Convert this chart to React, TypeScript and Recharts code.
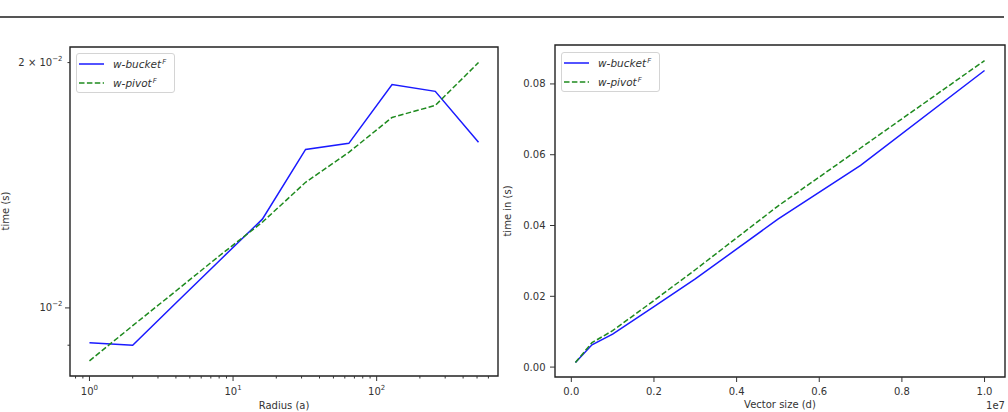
import React from "react";
import { LineChart, Line, XAxis, YAxis, Legend, Label, ReferenceArea } from "recharts";

// left panel: time vs radius (log-log)
const radius = [1, 2, 4, 8, 16, 32, 64, 128, 256, 512];
const bucketByRadius = [0.00906, 0.009, 0.01014, 0.01142, 0.01285, 0.01565, 0.01592, 0.0188, 0.01844, 0.01597];
const pivotByRadius = [0.00861, 0.00951, 0.01049, 0.01158, 0.01274, 0.01426, 0.01552, 0.01713, 0.01772, 0.02];

// right panel: time vs vector size
const vectorSize = [1e5, 5e5, 1e6, 2e6, 3e6, 5e6, 7e6, 1e7];
const bucketBySize = [0.0013, 0.0063, 0.0093, 0.0171, 0.0249, 0.0418, 0.057, 0.0838];
const pivotBySize = [0.0013, 0.0069, 0.0103, 0.0188, 0.0275, 0.0455, 0.0619, 0.0866];

const radiusMajorTicks = [1, 10, 100];
const radiusMinorTicks = [0.8, 0.9, 2, 3, 4, 5, 6, 7, 8, 9, 20, 30, 40, 50, 60, 70, 80, 90, 200, 300, 400, 500, 600];
const timeLogTicks = [0.009, 0.01, 0.02];
const timeLogLabels: Record<string, [string, string]> = {
  "0.01": ["10", "\u22122"],
  "0.02": ["2 \u00d7 10", "\u22122"],
};
const sizeTicks = [0, 2e6, 4e6, 6e6, 8e6, 1e7];
const sizeTickLabels = ["0.0", "0.2", "0.4", "0.6", "0.8", "1.0"];
const timeTicks = [0, 0.02, 0.04, 0.06, 0.08];
const timeTickLabels = ["0.00", "0.02", "0.04", "0.06", "0.08"];

const font = "'DejaVu Sans', sans-serif";
const textColor = "#333";
const axisColor = "#333";
const blue = "#1a1aff";
const green = "#1e8a1e";

const radiusData = radius.map((r, i) => ({ r, bucket: bucketByRadius[i], pivot: pivotByRadius[i] }));
const sizeData = vectorSize.map((d, i) => ({ d, bucket: bucketBySize[i], pivot: pivotBySize[i] }));

const LogXTick = (props: any) => {
  const { x, y, payload } = props;
  const v = payload.value;
  const major = radiusMajorTicks.includes(v);
  return (
    <g>
      <line x1={x} x2={x} y1={y} y2={y + (major ? 5 : 2.5)} stroke={axisColor} />
      {major && (
        <text x={x} y={y + 19} textAnchor="middle" fill={textColor} fontSize={10} fontFamily={font}>
          10
          <tspan dy={-5} fontSize={7}>
            {Math.round(Math.log10(v))}
          </tspan>
        </text>
      )}
    </g>
  );
};

const LogYTick = (props: any) => {
  const { x, y, payload } = props;
  const lbl = timeLogLabels[String(payload.value)];
  const major = payload.value === 0.01;
  return (
    <g>
      <line x1={x - (major ? 5 : 2.5)} x2={x} y1={y} y2={y} stroke={axisColor} />
      {lbl && (
        <text x={x - 7.5} y={y + 3.5} textAnchor="end" fill={textColor} fontSize={10} fontFamily={font}>
          {lbl[0]}
          <tspan dy={-5} fontSize={7}>
            {lbl[1]}
          </tspan>
        </text>
      )}
    </g>
  );
};

const SizeXTick = (props: any) => {
  const { x, y, payload } = props;
  const i = sizeTicks.indexOf(payload.value);
  return (
    <g>
      <line x1={x} x2={x} y1={y} y2={y + 5} stroke={axisColor} />
      <text x={x} y={y + 18} textAnchor="middle" fill={textColor} fontSize={10} fontFamily={font}>
        {sizeTickLabels[i]}
      </text>
    </g>
  );
};

const TimeYTick = (props: any) => {
  const { x, y, payload } = props;
  const i = timeTicks.indexOf(payload.value);
  return (
    <g>
      <line x1={x - 5} x2={x} y1={y} y2={y} stroke={axisColor} />
      <text x={x - 9.5} y={y + 3.5} textAnchor="end" fill={textColor} fontSize={10} fontFamily={font}>
        {timeTickLabels[i]}
      </text>
    </g>
  );
};

const renderLegend = (props: any) => (
  <div
    style={{
      width: 99,
      height: 40,
      boxSizing: "border-box",
      border: "1px solid #d4d4d4",
      borderRadius: 3,
      background: "#fff",
      fontFamily: font,
      fontSize: 10.5,
      color: textColor,
    }}
  >
    {(props.payload || []).map((entry: any) => (
      <div key={entry.value} style={{ display: "flex", alignItems: "center", height: 19 }}>
        <svg width={25} height={4} style={{ marginLeft: 2, marginRight: 9 }}>
          <line
            x1={0}
            x2={25}
            y1={2}
            y2={2}
            stroke={entry.color}
            strokeWidth={1.5}
            strokeDasharray={entry.payload?.strokeDasharray}
          />
        </svg>
        <span style={{ fontStyle: "italic", whiteSpace: "nowrap" }}>
          {entry.value}
          <span style={{ fontSize: 7, position: "relative", top: -4, marginLeft: 1 }}>F</span>
        </span>
      </div>
    ))}
  </div>
);

const title = (x: number, y: number, text: string, opts: any = {}) => () =>
  (
    <text
      x={x}
      y={y}
      textAnchor={opts.anchor || "middle"}
      transform={opts.rotate ? `rotate(-90 ${x} ${y})` : undefined}
      fill={textColor}
      fontSize={10}
      fontFamily={font}
    >
      {text}
    </text>
  );

export default function App() {
  return (
    <div style={{ position: "absolute", left: 0, top: 0, width: 1008, height: 412, background: "#fff", overflow: "hidden" }}>
      <div style={{ position: "absolute", left: 0, top: 16, width: 1004, height: 2, background: "#555" }} />

      <div style={{ position: "absolute", left: 0, top: 0 }}>
        <LineChart width={510} height={412} data={radiusData} margin={{ top: 47, right: 12, left: 10, bottom: 0 }}>
          <XAxis
            dataKey="r"
            type="number"
            scale="log"
            domain={[0.732, 699.8]}
            allowDataOverflow
            ticks={[...radiusMinorTicks, ...radiusMajorTicks].sort((a, b) => a - b)}
            interval={0}
            tick={<LogXTick />}
            tickSize={0}
            tickMargin={0}
            tickLine={false}
            axisLine={false}
            height={36}
          >
            <Label content={title(284, 409, "Radius (a)")} />
          </XAxis>
          <YAxis
            type="number"
            scale="log"
            domain={[0.00825, 0.0209]}
            allowDataOverflow
            ticks={timeLogTicks}
            interval={0}
            tick={<LogYTick />}
            tickSize={0}
            tickMargin={0}
            tickLine={false}
            axisLine={false}
            width={60}
          >
            <Label content={title(9, 211, "time (s)", { rotate: true })} />
          </YAxis>
          <ReferenceArea
            x1={0.732}
            x2={699.8}
            y1={0.00825}
            y2={0.0209}
            fill="none"
            stroke="#222"
            strokeWidth={1.4}
            ifOverflow="visible"
          />
          <Line
            dataKey="bucket"
            name="w-bucket"
            type="linear"
            stroke={blue}
            strokeWidth={1.5}
            dot={false}
            isAnimationActive={false}
          />
          <Line
            dataKey="pivot"
            name="w-pivot"
            type="linear"
            stroke={green}
            strokeWidth={1.5}
            strokeDasharray="5.5 2.4"
            dot={false}
            isAnimationActive={false}
          />
          <Legend
            layout="vertical"
            align="center"
            verticalAlign="middle"
            content={renderLegend}
            wrapperStyle={{ left: 76, top: 53, width: "auto" }}
          />
        </LineChart>
      </div>

      <div style={{ position: "absolute", left: 500, top: 0 }}>
        <LineChart width={508} height={412} data={sizeData} margin={{ top: 45, right: 3, left: 5, bottom: 0 }}>
          <XAxis
            dataKey="d"
            type="number"
            domain={[-395000, 10495000]}
            allowDataOverflow
            ticks={sizeTicks}
            interval={0}
            tick={<SizeXTick />}
            tickSize={0}
            tickMargin={0}
            tickLine={false}
            axisLine={false}
            height={35}
          >
            <Label content={title(280, 408, "Vector size (d)")} />
            <Label content={title(505, 409, "1e7", { anchor: "end" })} />
          </XAxis>
          <YAxis
            type="number"
            domain={[-0.0028, 0.091]}
            allowDataOverflow
            ticks={timeTicks}
            interval={0}
            tick={<TimeYTick />}
            tickSize={0}
            tickMargin={0}
            tickLine={false}
            axisLine={false}
            width={50}
          >
            <Label content={title(11, 211, "time in (s)", { rotate: true })} />
          </YAxis>
          <ReferenceArea
            x1={-395000}
            x2={10495000}
            y1={-0.0028}
            y2={0.091}
            fill="none"
            stroke="#222"
            strokeWidth={1.4}
            ifOverflow="visible"
          />
          <Line
            dataKey="bucket"
            name="w-bucket"
            type="linear"
            stroke={blue}
            strokeWidth={1.5}
            dot={false}
            isAnimationActive={false}
          />
          <Line
            dataKey="pivot"
            name="w-pivot"
            type="linear"
            stroke={green}
            strokeWidth={1.5}
            strokeDasharray="5.5 2.4"
            dot={false}
            isAnimationActive={false}
          />
          <Legend
            layout="vertical"
            align="center"
            verticalAlign="middle"
            content={renderLegend}
            wrapperStyle={{ left: 61, top: 52, width: "auto" }}
          />
        </LineChart>
      </div>
    </div>
  );
}
